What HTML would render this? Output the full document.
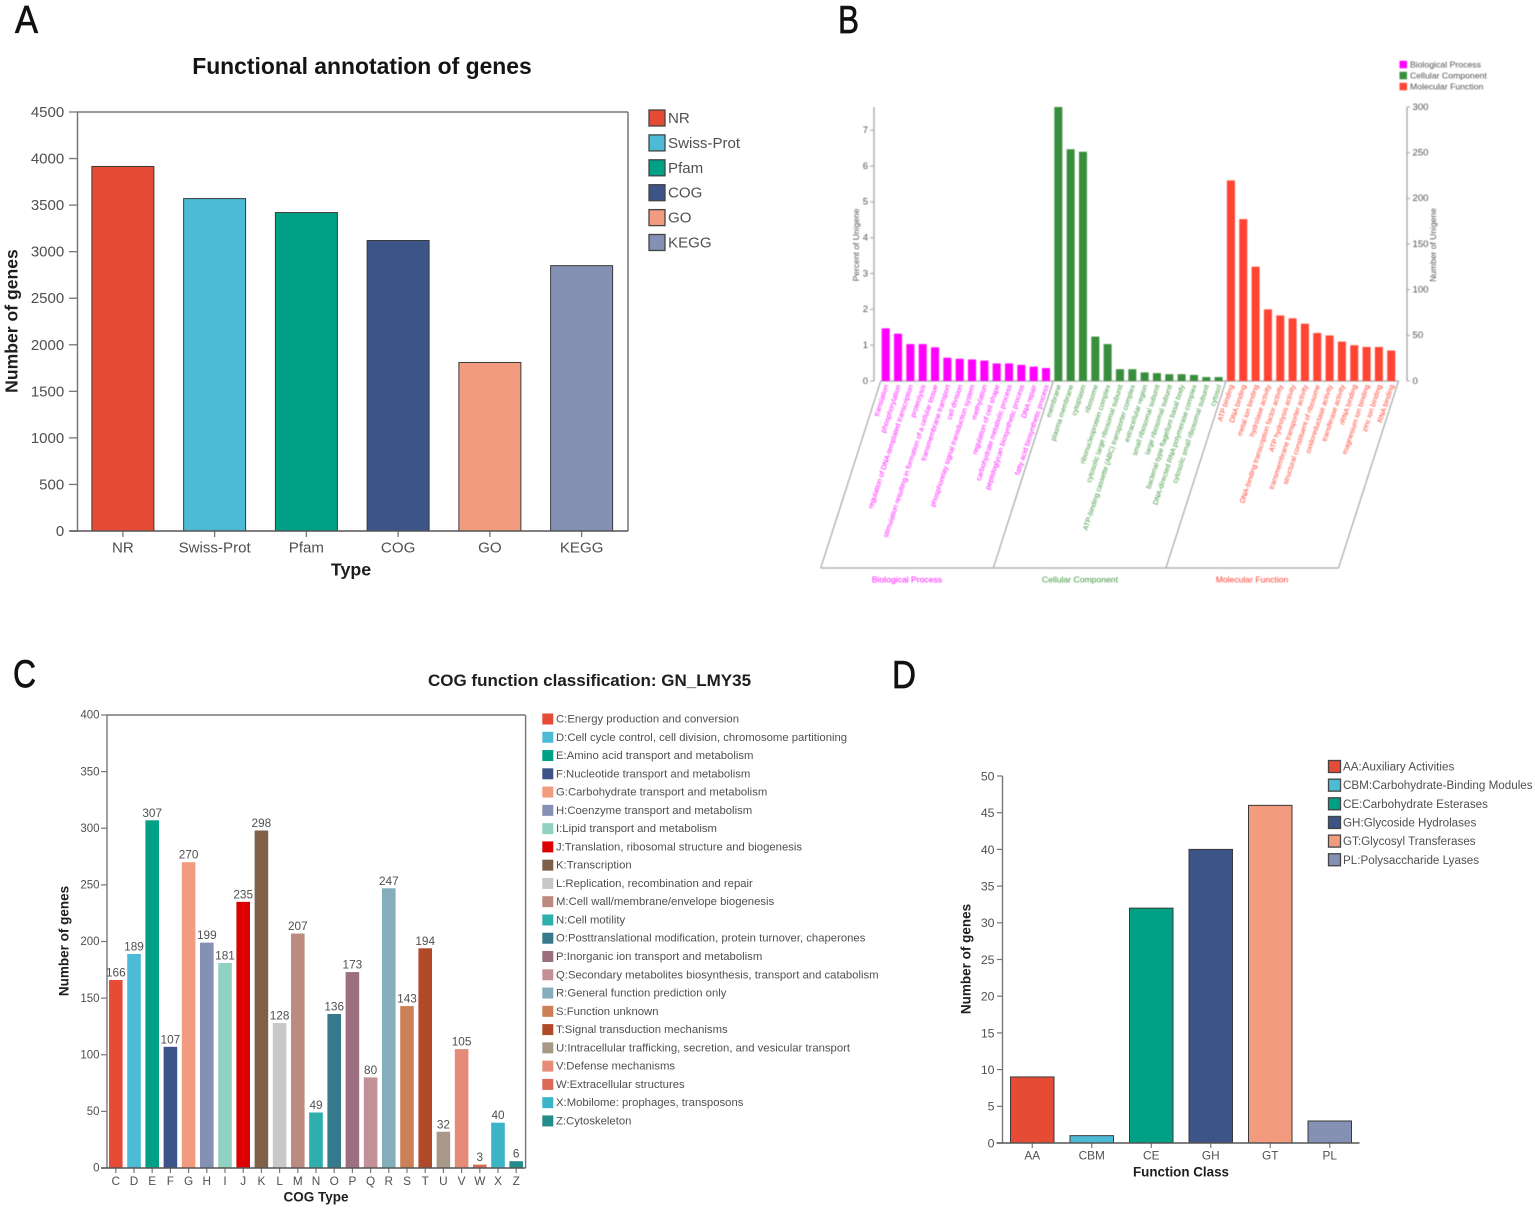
<!DOCTYPE html>
<html lang="en">
<head>
<meta charset="utf-8">
<title>Gene annotation figure</title>
<style>
html,body{margin:0;padding:0;background:#fff;width:1535px;height:1209px;overflow:hidden}
svg{display:block;font-family:"Liberation Sans",sans-serif}
#panel-b-group{filter:blur(.45px)}
#panel-a-group,#panel-c-group,#panel-d-group{filter:blur(.35px)}
</style>
</head>
<body>
<svg id="figure" xmlns="http://www.w3.org/2000/svg" width="1535" height="1209" viewBox="0 0 1535 1209">
  <rect width="1535" height="1209" fill="#fff"/>
  <text x="15" y="33" font-size="39" fill="#111" stroke="#111" stroke-width=".7" textLength="23" lengthAdjust="spacingAndGlyphs">A</text>
  <text x="838" y="33" font-size="39" fill="#111" stroke="#111" stroke-width=".7" textLength="21" lengthAdjust="spacingAndGlyphs">B</text>
  <text x="13" y="687" font-size="39" fill="#111" stroke="#111" stroke-width=".7" textLength="23" lengthAdjust="spacingAndGlyphs">C</text>
  <text x="892" y="688" font-size="39" fill="#111" stroke="#111" stroke-width=".7" textLength="24" lengthAdjust="spacingAndGlyphs">D</text>
  <g id="panel-a-group"></g>
  <g id="panel-b-group"></g>
  <g id="panel-c-group"></g>
  <g id="panel-d-group"></g>
</svg>
<script>
// ---------- Panel A data ----------
const annotCategories = ["NR","Swiss-Prot","Pfam","COG","GO","KEGG"];
const annotValues = [3915,3570,3420,3120,1810,2850];
const annotColors = ["#E64B35","#4DBBD5","#00A087","#3C5488","#F39B7F","#8491B4"];
const annotTicks = [0,500,1000,1500,2000,2500,3000,3500,4000,4500];

// ---------- Panel B data ----------
const goBpLabels = ["translation","phosphorylation","regulation of DNA-templated transcription","proteolysis","stimulation resulting in formation of a cellular tissue","transmembrane transport","cell division","phosphorelay signal transduction system","methylation","regulation of cell shape","carbohydrate metabolic process","peptidoglycan biosynthetic process","DNA repair","fatty acid biosynthetic process"];
const goBpValues = [1.47,1.32,1.03,1.03,0.94,0.65,0.62,0.60,0.57,0.49,0.49,0.45,0.40,0.36];
const goCcLabels = ["membrane","plasma membrane","cytoplasm","ribosome","ribonucleoprotein complex","cytosolic large ribosomal subunit","ATP-binding cassette (ABC) transporter complex","extracellular region","small ribosomal subunit","large ribosomal subunit","bacterial-type flagellum basal body","DNA-directed RNA polymerase complex","cytosolic small ribosomal subunit","cytosol"];
const goCcValues = [7.65,6.47,6.40,1.24,1.03,0.33,0.33,0.24,0.22,0.19,0.19,0.17,0.11,0.11];
const goMfLabels = ["ATP binding","DNA binding","metal ion binding","hydrolase activity","DNA-binding transcription factor activity","ATP hydrolysis activity","transmembrane transporter activity","structural constituent of ribosome","oxidoreductase activity","transferase activity","rRNA binding","magnesium ion binding","zinc ion binding","RNA binding"];
const goMfValues = [5.60,4.52,3.19,2.00,1.83,1.75,1.60,1.34,1.27,1.10,1.00,0.95,0.95,0.85];
const goGroups = ["Biological Process","Cellular Component","Molecular Function"];
const goGroupColors = ["#FF00FF","#388E3C","#FF4433"];
const goPercentTicks = [0,1,2,3,4,5,6,7];
const goNumberTicks = [0,50,100,150,200,250,300];

// ---------- Panel C data ----------
const cogCategories = ["C","D","E","F","G","H","I","J","K","L","M","N","O","P","Q","R","S","T","U","V","W","X","Z"];
const cogValues = [166,189,307,107,270,199,181,235,298,128,207,49,136,173,80,247,143,194,32,105,3,40,6];
const cogColors = ["#E64B35","#4DBBD5","#00A087","#3C5488","#F39B7F","#8491B4","#91D1C2","#DC0000","#7E6148","#C8C8C8","#BC8B80","#2FAFAC","#347A8C","#9C6F80","#C49098","#85AEBC","#CC8058","#B04A28","#A89888","#E58B78","#DC6A58","#3CB4C8","#258C8C"];
const cogLegend = ["C:Energy production and conversion","D:Cell cycle control, cell division, chromosome partitioning","E:Amino acid transport and metabolism","F:Nucleotide transport and metabolism","G:Carbohydrate transport and metabolism","H:Coenzyme transport and metabolism","I:Lipid transport and metabolism","J:Translation, ribosomal structure and biogenesis","K:Transcription","L:Replication, recombination and repair","M:Cell wall/membrane/envelope biogenesis","N:Cell motility","O:Posttranslational modification, protein turnover, chaperones","P:Inorganic ion transport and metabolism","Q:Secondary metabolites biosynthesis, transport and catabolism","R:General function prediction only","S:Function unknown","T:Signal transduction mechanisms","U:Intracellular trafficking, secretion, and vesicular transport","V:Defense mechanisms","W:Extracellular structures","X:Mobilome: prophages, transposons","Z:Cytoskeleton"];
const cogTicks = [0,50,100,150,200,250,300,350,400];

// ---------- Panel D data ----------
const cazyCategories = ["AA","CBM","CE","GH","GT","PL"];
const cazyValues = [9,1,32,40,46,3];
const cazyColors = ["#E64B35","#4DBBD5","#00A087","#3C5488","#F39B7F","#8491B4"];
const cazyLegend = ["AA:Auxiliary Activities","CBM:Carbohydrate-Binding Modules","CE:Carbohydrate Esterases","GH:Glycoside Hydrolases","GT:Glycosyl Transferases","PL:Polysaccharide Lyases"];
const cazyTicks = [0,5,10,15,20,25,30,35,40,45,50];

const NS = "http://www.w3.org/2000/svg";
function slug(s){ return String(s).toLowerCase().replace(/[^a-z0-9]+/g,"-").replace(/^-|-$/g,""); }

function addRect(parent,name,x,y,w,h,fill,stroke,sw){
  const el = document.createElementNS(NS,"rect");
  el.setAttribute("x",x); el.setAttribute("y",y);
  el.setAttribute("width",w); el.setAttribute("height",h);
  el.setAttribute("fill",fill);
  if(stroke){ el.setAttribute("stroke",stroke); el.setAttribute("stroke-width",sw); }
  
  
  parent.appendChild(el);
  return el;
}
function addLine(parent,name,x1,y1,x2,y2,stroke,sw){
  const el = document.createElementNS(NS,"line");
  el.setAttribute("x1",x1); el.setAttribute("y1",y1);
  el.setAttribute("x2",x2); el.setAttribute("y2",y2);
  el.setAttribute("stroke",stroke); el.setAttribute("stroke-width",sw);
  
  
  parent.appendChild(el);
  return el;
}
function addText(parent,name,x,y,str,size,fill,anchor,weight,rotate){
  const el = document.createElementNS(NS,"text");
  el.setAttribute("x",x); el.setAttribute("y",y);
  el.setAttribute("font-size",size); el.setAttribute("fill",fill);
  el.setAttribute("text-anchor",anchor||"start");
  el.setAttribute("dominant-baseline","central");
  if(weight) el.setAttribute("font-weight",weight);
  if(rotate) el.setAttribute("transform","rotate("+rotate+" "+x+" "+y+")");
  el.textContent = str;
  
  
  parent.appendChild(el);
  return el;
}
function addLegendEntry(parent,i,label,color,x,yc,sw,textX,size,stroke){
  const g = document.createElementNS(NS,"g");
  
  
  parent.appendChild(g);
  addRect(g,"legend-swatch",x,yc-sw/2,sw,sw,color,stroke,stroke?1.3:0);
  addText(g,"legend-label",textX,yc+0.5,label,size,"#505050","start");
}

const AXIS = "#777", LABEL = "#505050";

/* ---------- Panel A ---------- */
(function(){
  const g = document.getElementById("panel-a-group");
  const L=77.5,R=628,T=112,B=531,maxV=4500,barW=62;
  const y = v => B-(v/maxV)*(B-T);
  const band = (R-L)/annotCategories.length;
  const x = i => L+band*i+band/2-0.5;
  addText(g,"chart-title",362,66,"Functional annotation of genes",22.9,"#141414","middle","bold");
  addLine(g,"plot-border-top",L,T,R,T,AXIS,1.5);
  addLine(g,"plot-border-right",R,T,R,B,AXIS,1.5);
  addLine(g,"y-axis-line",L,T,L,B,AXIS,1.5);
  annotTicks.forEach(t=>{
    addLine(g,"y-tick",69,y(t),L,y(t),AXIS,1.3);
    addText(g,"y-tick-label",64.2,y(t)+0.5,t,15,LABEL,"end");
  });
  annotCategories.forEach((c,i)=>{
    addRect(g,"bar-"+slug(c),x(i)-barW/2,y(annotValues[i]),barW,B-y(annotValues[i]),annotColors[i],"#3a3a3a",1);
    addLine(g,"x-tick",x(i),B,x(i),B+6,AXIS,1.3);
    addText(g,"x-tick-label",x(i),548,c,15.1,LABEL,"middle");
    addLegendEntry(g,i,c,annotColors[i],649,118+i*24.9,16,668,15.1,"#444");
  });
  addLine(g,"x-axis-line",L-8,B,R,B,"#555",1.5);
  addText(g,"y-axis-title",11.5,321,"Number of genes",17.6,"#1e1e1e","middle","bold",-90);
  addText(g,"x-axis-title",351,569.5,"Type",17.8,"#1e1e1e","middle","bold");
})();

/* ---------- Panel B ---------- */
(function(){
  const g = document.getElementById("panel-b-group");
  const L=874,Rx=1407,T=107,B=381,maxPct=7.65,maxNum=300,pitch=12.33,barW=8,x0=881.7;
  const y = v => B-(v/maxPct)*(B-T);
  const yNum = v => B-(v/maxNum)*(B-T);
  const AX="#a5a5a5", LAB="#505050";
  addLine(g,"left-axis-line",L,T,L,B,AX,1.3);
  addLine(g,"right-axis-line",Rx,T,Rx,B,AX,1.3);
  goPercentTicks.forEach(t=>{
    addLine(g,"left-tick",L-4,y(t),L,y(t),AX,1);
    addText(g,"left-tick-label",L-6,y(t)+0.3,t,9.5,LAB,"end");
  });
  goNumberTicks.forEach(t=>{
    addLine(g,"right-tick",Rx,yNum(t),Rx+3,yNum(t),AX,1);
    addText(g,"right-tick-label",Rx+5.5,yNum(t)+0.3,t,9.6,LAB,"start");
  });
  addText(g,"left-axis-title",856,245,"Percent of Unigene",8.5,LAB,"middle",null,-90);
  addText(g,"right-axis-title",1433,245,"Number of Unigene",8.5,LAB,"middle",null,-90);

  const groupVals = [goBpValues,goCcValues,goMfValues];
  const groupLabs = [goBpLabels,goCcLabels,goMfLabels];
  const groupCenters = [907,1080,1252];
  const boundaries = [0,14,28,42];
  const slantDx = 60, bottom = 568;
  const lineX = k => x0-1+boundaries[k]*pitch;
  boundaries.forEach((b,k)=>{
    addLine(g,"category-divider",lineX(k),B,lineX(k)-slantDx,bottom,AX,1.2);
  });
  addLine(g,"category-baseline",lineX(0),B,lineX(3),B,AX,1.2);
  addLine(g,"category-bottom-line",lineX(0)-slantDx,bottom,lineX(3)-slantDx,bottom,AX,1.2);
  groupVals.forEach((vals,k)=>{
    const col = k===0?"#FF10FF":(k===1?"#3F963F":"#FF4030");
    vals.forEach((v,i)=>{
      const bx = x0+(boundaries[k]+i)*pitch;
      addRect(g,"bar-"+slug(groupLabs[k][i]),bx,y(v),barW,B-y(v),goGroupColors[k]);
      addText(g,"category-label-"+slug(groupLabs[k][i]),bx+barW/2+1,385,groupLabs[k][i],7.1,col,"end",null,-71.7);
    });
    addText(g,"group-label-"+slug(goGroups[k]),groupCenters[k],579.3,goGroups[k],8.6,col,"middle");
    addRect(g,"legend-swatch-"+slug(goGroups[k]),1399.5,60.8+k*11,7.5,7.5,goGroupColors[k]);
    addText(g,"legend-label-"+slug(goGroups[k]),1410,64.4+k*11,goGroups[k],8.7,LAB,"start");
  });
})();

/* ---------- Panel C ---------- */
(function(){
  const g = document.getElementById("panel-c-group");
  const L=107,R=525.6,T=715,B=1168,maxV=400,barW=13.6;
  const y = v => B-(v/maxV)*(B-T);
  const band = (R-L)/cogCategories.length;
  const x = i => L+band*i+band/2-0.3;
  addText(g,"chart-title",589.5,680.7,"COG function classification: GN_LMY35",17,"#1e1e1e","middle","bold");
  addLine(g,"plot-border-top",L,T,R,T,AXIS,1.4);
  addLine(g,"plot-border-right",R,T,R,B,AXIS,1.4);
  addLine(g,"y-axis-line",L,T,L,B,AXIS,1.4);
  cogTicks.forEach(t=>{
    addLine(g,"y-tick",101,y(t),L,y(t),AXIS,1.2);
    addText(g,"y-tick-label",99.5,y(t)+0.7,t,11.5,LABEL,"end");
  });
  cogCategories.forEach((c,i)=>{
    addRect(g,"bar-"+slug(c),x(i)-barW/2,y(cogValues[i]),barW,B-y(cogValues[i]),cogColors[i]);
    addText(g,"value-label-"+slug(c),x(i),y(cogValues[i])-7.5,cogValues[i],11.8,LABEL,"middle");
    addLine(g,"x-tick",x(i),B,x(i),B+5,AXIS,1.2);
    addText(g,"x-tick-label",x(i),1181,c,11.8,LABEL,"middle");
    addLegendEntry(g,i,cogLegend[i],cogColors[i],542.3,719+i*18.27,11,556,11.32,null);
  });
  addLine(g,"x-axis-line",L-6,B,R,B,"#555",1.4);
  addText(g,"y-axis-title",64,941,"Number of genes",13.5,"#1e1e1e","middle","bold",-90);
  addText(g,"x-axis-title",316,1197,"COG Type",13.5,"#1e1e1e","middle","bold");
})();

/* ---------- Panel D ---------- */
(function(){
  const g = document.getElementById("panel-d-group");
  const L=1002.5,R=1359.5,T=776,B=1143,maxV=50,barW=43.5;
  const y = v => B-(v/maxV)*(B-T);
  const band = (R-L)/cazyCategories.length;
  const x = i => L+band*i+band/2;
  addLine(g,"y-axis-line",L,T,L,B,AXIS,1.4);
  cazyTicks.forEach(t=>{
    addLine(g,"y-tick",997,y(t),L,y(t),AXIS,1.2);
    addText(g,"y-tick-label",994.5,y(t)+0.4,t,12.3,LABEL,"end");
  });
  cazyCategories.forEach((c,i)=>{
    addRect(g,"bar-"+slug(c),x(i)-barW/2,y(cazyValues[i]),barW,B-y(cazyValues[i]),cazyColors[i],"#3a3a3a",1);
    addLine(g,"x-tick",x(i),B,x(i),B+5,AXIS,1.2);
    addText(g,"x-tick-label",x(i),1155.3,c,11.8,LABEL,"middle");
    addLegendEntry(g,i,cazyLegend[i],cazyColors[i],1328.5,766.5+i*18.65,12,1343,11.65,"#444");
  });
  addLine(g,"x-axis-line",L-6,B,R,B,"#555",1.4);
  addText(g,"y-axis-title",966,959,"Number of genes",13.5,"#1e1e1e","middle","bold",-90);
  addText(g,"x-axis-title",1181,1172,"Function Class",13.4,"#1e1e1e","middle","bold");
})();
</script>
</body>
</html>
